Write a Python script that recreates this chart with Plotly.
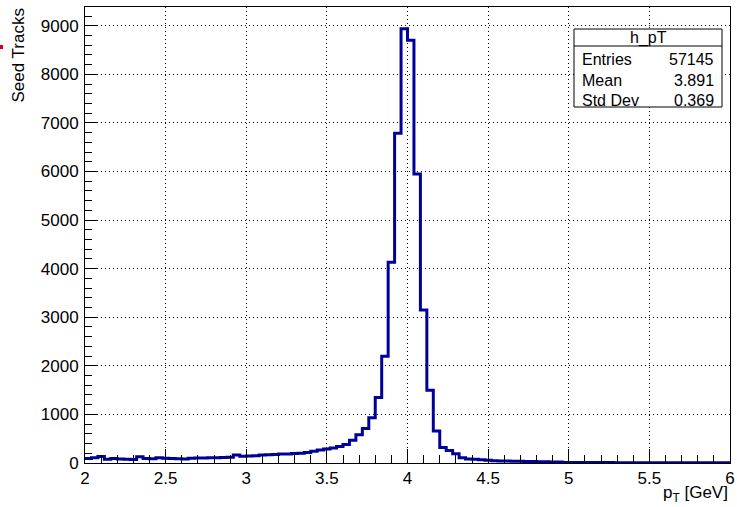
import plotly.graph_objects as go

# Histogram h_pT: 100 bins from 2 to 6 GeV
x_min = 2.0
x_max = 6.0
n_bins = 100
counts = [
    95, 110, 135, 75, 95, 80, 75, 70, 130, 95,
    90, 110, 100, 95, 90, 80, 100, 105, 105, 110,
    110, 115, 120, 165, 140, 145, 150, 165, 170, 175,
    185, 185, 195, 200, 215, 240, 270, 290, 310, 340,
    380, 470, 580, 710, 930, 1350, 2200, 4130, 6790, 8940,
    8700, 5950, 3150, 1500, 660, 320, 255, 190, 110, 80,
    75, 65, 55, 48, 42, 40, 38, 35, 32, 30,
    28, 25, 22, 20, 12, 10, 10, 9, 9, 8,
    8, 8, 7, 7, 7, 6, 6, 6, 6, 5,
    5, 5, 5, 5, 4, 4, 4, 4, 3, 3,
]
stats_labels = ["Entries", "Mean", "Std Dev"]
stats_values = ["57145", "3.891", "0.369"]
hist_name = "h_pT"

bw = (x_max - x_min) / n_bins
edges = [x_min + i * bw for i in range(n_bins + 1)]
ys = counts + [counts[-1]]

FONT = "Liberation Sans, Arial, Helvetica, sans-serif"
W, H = 737, 507
L, R, T, B = 85, 7, 7, 44
pw, ph = W - L - R, H - T - B

def px(xp):
    return (xp - L) / pw

def py(yp):
    return (H - B - yp) / ph

fig = go.Figure()
fig.add_trace(go.Scatter(
    x=edges, y=ys, mode="lines", line=dict(shape="hv", color="#000099", width=3),
    showlegend=False, hoverinfo="skip"))

ymax = max(counts) * 1.05

axis_common = dict(
    showline=True, linecolor="black", linewidth=1, mirror=True,
    ticks="inside", tickcolor="black", tickwidth=1,
    showgrid=True, gridcolor="black", griddash="1px,3px", gridwidth=1,
    zeroline=False, tickfont=dict(family=FONT, size=17, color="black"),
    automargin=False,
)
fig.update_xaxes(range=[x_min, x_max], dtick=0.5, ticklen=14, ticklabelstandoff=0,
                 minor=dict(dtick=0.1, ticklen=8, ticks="inside", tickcolor="black", showgrid=False),
                 **axis_common)
fig.update_yaxes(range=[0, ymax], dtick=1000, ticklen=13, ticklabelstandoff=2,
                 minor=dict(dtick=200, ticklen=7, ticks="inside", tickcolor="black", showgrid=False),
                 **axis_common)

annotations = [
    dict(text="p<sub>T</sub> [GeV]", xref="paper", yref="paper", x=1.0, y=py(481),
         xanchor="right", yanchor="top", showarrow=False,
         font=dict(family=FONT, size=17, color="black")),
    dict(text="Seed Tracks", xref="paper", yref="paper", x=px(18), y=py(6),
         xanchor="center", yanchor="top", textangle=-90, showarrow=False,
         font=dict(family=FONT, size=17, color="black")),
    dict(text=hist_name, xref="paper", yref="paper", x=px(648), y=py(37.5),
         xanchor="center", yanchor="middle", showarrow=False,
         font=dict(family=FONT, size=16, color="black")),
]
row_y = [59, 80, 100]
for lab, val, yy in zip(stats_labels, stats_values, row_y):
    annotations.append(dict(text=lab, xref="paper", yref="paper", x=px(580), y=py(yy),
                            xanchor="left", yanchor="middle", showarrow=False,
                            font=dict(family=FONT, size=16, color="black")))
    annotations.append(dict(text=val, xref="paper", yref="paper", x=px(716), y=py(yy),
                            xanchor="right", yanchor="middle", showarrow=False,
                            font=dict(family=FONT, size=16, color="black")))

shapes = [
    dict(type="rect", xref="paper", yref="paper", x0=px(574), x1=px(722), y0=py(107), y1=py(29),
         line=dict(color="black", width=1), fillcolor="white", layer="above"),
    dict(type="line", xref="paper", yref="paper", x0=px(574), x1=px(722), y0=py(46), y1=py(46),
         line=dict(color="black", width=1), layer="above"),
    dict(type="rect", xref="paper", yref="paper", x0=px(0), x1=px(3), y0=py(49), y1=py(45),
         line=dict(width=0), fillcolor="#c8002d", layer="above"),
]

fig.update_layout(
    width=W, height=H, margin=dict(l=L, r=R, t=T, b=B, autoexpand=False),
    paper_bgcolor="white", plot_bgcolor="white",
    annotations=annotations, shapes=shapes, showlegend=False,
)
fig.write_html("out.html", config={"displayModeBar": False},
               post_script="document.body.style.margin='0';document.body.style.overflow='hidden';")
